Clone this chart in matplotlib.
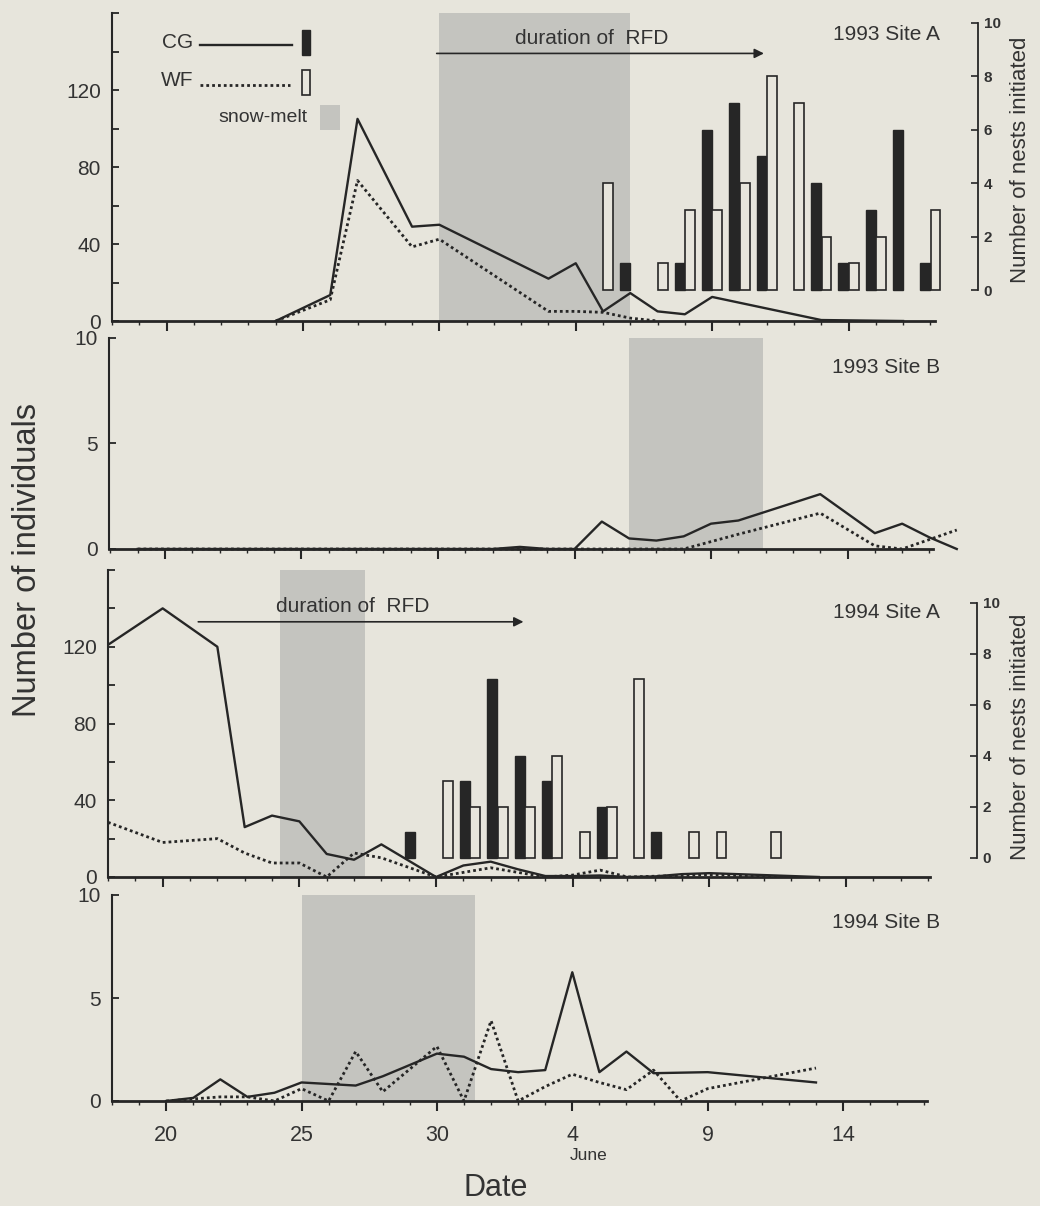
import numpy as np
import matplotlib
matplotlib.use('Agg')
import matplotlib.pyplot as plt
from matplotlib.patches import Rectangle
from matplotlib.lines import Line2D

plt.rcParams['font.family'] = ['Liberation Sans', 'DejaVu Sans']

# day numbers count from 1 May (so 32 = 1 June)
# 1993 Site A
cg93a_days = [24, 26, 27, 29, 30, 34, 35, 36, 37, 38, 39, 40, 44, 47]
cg93a_vals = [0, 13.5, 105, 49, 50, 22, 30, 5, 14.5, 5, 3.5, 12.5, 0.5, 0]
wf93a_days = [24, 26, 27, 29, 30, 34, 35, 36, 37, 38]
wf93a_vals = [0, 11, 73, 38.5, 42.5, 5, 5, 4.5, 1.5, 0]
cg_nest93_days = [37, 39, 40, 41, 42, 44, 45, 46, 47, 48]
cg_nest93 = [1, 1, 6, 7, 5, 4, 1, 3, 6, 1]
wf_nest93_days = [36, 38, 39, 40, 41, 42, 43, 44, 45, 46, 48]
wf_nest93 = [4, 1, 3, 3, 4, 8, 7, 2, 1, 2, 3]

# 1993 Site B
cg93b_days = [19, 32, 33, 34, 35, 36, 37, 38, 39, 40, 41, 44, 46, 47, 48, 49]
cg93b_vals = [0, 0, 0.1, 0, 0, 1.3, 0.5, 0.4, 0.6, 1.2, 1.35, 2.6, 0.75, 1.2, 0.55, 0]
wf93b_days = [19, 39, 40, 41, 44, 46, 47, 49]
wf93b_vals = [0, 0, 0.35, 0.7, 1.7, 0.15, 0, 0.9]

# 1994 Site A
cg94a_days = [18, 20, 22, 23, 24, 25, 26, 27, 28, 30, 31, 32, 33, 34, 35, 36, 37, 38, 39, 40, 42, 44]
cg94a_vals = [121, 140, 120, 26, 32, 29, 12, 9, 17, 0, 6, 8, 4, 0.5, 0.5, 0.8, 0, 0.3, 1.5, 2, 1, 0]
wf94a_days = [18, 20, 22, 23, 24, 25, 26, 27, 28, 29, 30, 32, 34, 35, 36, 37, 40, 43]
wf94a_vals = [28.5, 18, 20, 12.5, 7.3, 7.3, 0, 12.5, 10, 5, 0, 4.8, 0, 1, 3.6, 0, 1.2, 0]
cg_nest94_days = [29, 31, 32, 33, 34, 36, 38]
cg_nest94 = [1, 3, 7, 4, 3, 2, 1]
wf_nest94_days = [30, 31, 32, 33, 34, 35, 36, 37, 39, 40, 42]
wf_nest94 = [3, 2, 2, 2, 4, 1, 2, 7, 1, 1, 1]

# 1994 Site B
cg94b_days = [20, 21, 22, 23, 24, 25, 27, 28, 29, 30, 31, 32, 33, 34, 35, 36, 37, 38, 40, 44]
cg94b_vals = [0, 0.15, 1.05, 0.2, 0.4, 0.9, 0.75, 1.2, 1.75, 2.3, 2.15, 1.55, 1.4, 1.5, 6.25, 1.4, 2.4, 1.35, 1.4, 0.9]
wf94b_days = [20, 22, 23, 24, 25, 26, 27, 28, 30, 31, 32, 33, 34, 35, 36, 37, 38, 39, 40, 44]
wf94b_vals = [0, 0.2, 0.2, 0, 0.6, 0, 2.4, 0.45, 2.65, 0, 3.9, 0, 0.7, 1.3, 0.9, 0.55, 1.5, 0, 0.6, 1.6]

snowmelt = [(30, 37), (37, 41.9), (24.3, 27.4), (25, 31.4)]
rfd = {0: (29.8, 42.0), 2: (21.2, 33.3)}
titles = ['1993 Site A', '1993 Site B', '1994 Site A', '1994 Site B']
tick_days = [20, 25, 30, 35, 40, 45]
tick_names = ['20', '25', '30', '4', '9', '14']

bg = '#e7e5dc'
ink = '#262626'
txt = '#333333'
shade = '#c4c4bf'

W, H = 1040, 1206
def fx(x):
    return x / W
def fy(y):
    return 1 - y / H

fig = plt.figure(figsize=(10.4, 12.06), dpi=100, facecolor=bg)

# panel boxes in pixels: left, right, top, bottom; and x limits
boxes = [(112, 935, 13, 321), (109, 933, 338, 549), (108, 930, 570, 877), (112, 927, 895, 1101)]
xlims = [(18.02, 48.17), (17.95, 48.13), (18.07, 48.07), (18.36, 48.10)]
ylims = [(0, 160), (0, 10), (0, 160), (0, 10)]
lines = [(cg93a_days, cg93a_vals, wf93a_days, wf93a_vals),
         (cg93b_days, cg93b_vals, wf93b_days, wf93b_vals),
         (cg94a_days, cg94a_vals, wf94a_days, wf94a_vals),
         (cg94b_days, cg94b_vals, wf94b_days, wf94b_vals)]
title_y = [34, 368, 613, 923]

axes = []
for i, (l, r, t, b) in enumerate(boxes):
    ax = fig.add_axes([fx(l), fy(b), (r - l) / W, (b - t) / H])
    ax.set_facecolor('none')
    ax.set_xlim(*xlims[i])
    ax.set_ylim(*ylims[i])
    for s in ['top', 'right']:
        ax.spines[s].set_visible(False)
    ax.spines['left'].set_linewidth(1.5)
    ax.spines['bottom'].set_linewidth(2)
    ax.spines['left'].set_color(ink)
    ax.spines['bottom'].set_color(ink)

    ax.axvspan(*snowmelt[i], color=shade, lw=0, zorder=0)

    cd, cv, wd, wv = lines[i]
    ax.plot(cd, cv, color=ink, lw=1.7, clip_on=(i != 1), zorder=3)
    ax.plot(wd, wv, color=ink, lw=2, ls=(0, (1, 1.1)), clip_on=(i != 1), zorder=3)

    if ylims[i][1] == 160:
        ax.set_yticks([0, 40, 80, 120])
        ax.set_yticks([20, 60, 100, 140, 160], minor=True)
    else:
        ax.set_yticks([0, 5, 10])
    ax.tick_params(axis='y', which='both', direction='in', length=5, width=1.3,
                   color=ink, labelsize=15, labelcolor=txt, pad=8)
    ax.set_xticks(tick_days)
    ax.set_xticks(range(18, 49), minor=True)
    ax.tick_params(axis='x', which='major', direction='out', length=7, width=1.5, color=ink)
    ax.tick_params(axis='x', which='minor', direction='out', length=3, width=1, color=ink)
    if i == 3:
        ax.set_xticklabels(tick_names)
        ax.tick_params(axis='x', labelsize=15.5, labelcolor=txt, pad=10)
    else:
        ax.set_xticklabels([])

    fig.text(fx(940), fy(title_y[i]), titles[i], ha='right', va='center', fontsize=15, color=txt)
    axes.append(ax)

# nests initiated (right axis) for Site A panels
nests = {0: (cg_nest93_days, cg_nest93, wf_nest93_days, wf_nest93, (-1.16, 10.37), 31, 160, 0.0),
         2: (cg_nest94_days, cg_nest94, wf_nest94_days, wf_nest94, (-0.745, 11.29), 34, 737, 0.25)}
for i, (cd, cn, wd, wn, yl, off, ylab, shift) in nests.items():
    ax = axes[i]
    ax2 = ax.twinx()
    ax2.set_ylim(*yl)
    for s in ['top', 'left', 'bottom']:
        ax2.spines[s].set_visible(False)
    ax2.spines['right'].set_position(('outward', off))
    ax2.spines['right'].set_bounds(0, 10)
    ax2.spines['right'].set_linewidth(1.3)
    ax2.spines['right'].set_color(ink)
    ax2.set_yticks([0, 2, 4, 6, 8, 10])
    ax2.tick_params(axis='y', direction='in', length=5, width=1.2, color=ink,
                    labelsize=11, labelcolor=txt, pad=4)
    for lab in ax2.get_yticklabels():
        lab.set_fontweight('bold')
    ax2.bar(np.array(cd) - 0.19 + shift, cn, width=0.36, color=ink, edgecolor=ink,
            lw=1, zorder=2, clip_on=False)
    ax2.bar(np.array(wd) + 0.19 + shift, wn, width=0.36, facecolor=bg, edgecolor=ink,
            lw=1.2, zorder=2, clip_on=False)
    fig.text(fx(1021), fy(ylab), 'Number of nests initiated', rotation=90,
             ha='center', va='center', fontsize=16, color=txt)

    x0, x1 = rfd[i]
    yv = 139 if i == 0 else 133
    ax.annotate('', xy=(x1, yv), xytext=(x0, yv),
                arrowprops=dict(arrowstyle='-|>', color=ink, lw=1.2, mutation_scale=14))
    ax.text((x0 + x1) / 2 - 0.3, yv + 3, 'duration of  RFD', ha='center', va='bottom',
            fontsize=15, color=txt)

# legend in the top panel
fig.text(fx(193), fy(42), 'CG', ha='right', va='center', fontsize=15, color=txt)
fig.text(fx(193), fy(80), 'WF', ha='right', va='center', fontsize=15, color=txt)
fig.text(fx(308), fy(117), 'snow-melt', ha='right', va='center', fontsize=14, color=txt)
fig.add_artist(Line2D([fx(200), fx(292)], [fy(45), fy(45)], color=ink, lw=1.7))
fig.add_artist(Line2D([fx(200), fx(290)], [fy(85), fy(85)], color=ink, lw=2, ls=(0, (1, 1.1))))
fig.add_artist(Rectangle((fx(302), fy(55)), 8 / W, 25 / H, facecolor=ink, edgecolor=ink))
fig.add_artist(Rectangle((fx(302), fy(95)), 8 / W, 25 / H, facecolor=bg, edgecolor=ink, lw=1.2))
fig.add_artist(Rectangle((fx(320), fy(130)), 20 / W, 25 / H, facecolor=shade, edgecolor='none'))

fig.text(fx(28), fy(560), 'Number of individuals', rotation=90, ha='center', va='center',
         fontsize=23.5, color=txt)
fig.text(fx(496), fy(1188), 'Date', ha='center', va='center', fontsize=22, color=txt)
fig.text(fx(589), fy(1155), 'June', ha='center', va='center', fontsize=12.5, color=txt)

fig.savefig('out.png', dpi=100, facecolor=bg)
